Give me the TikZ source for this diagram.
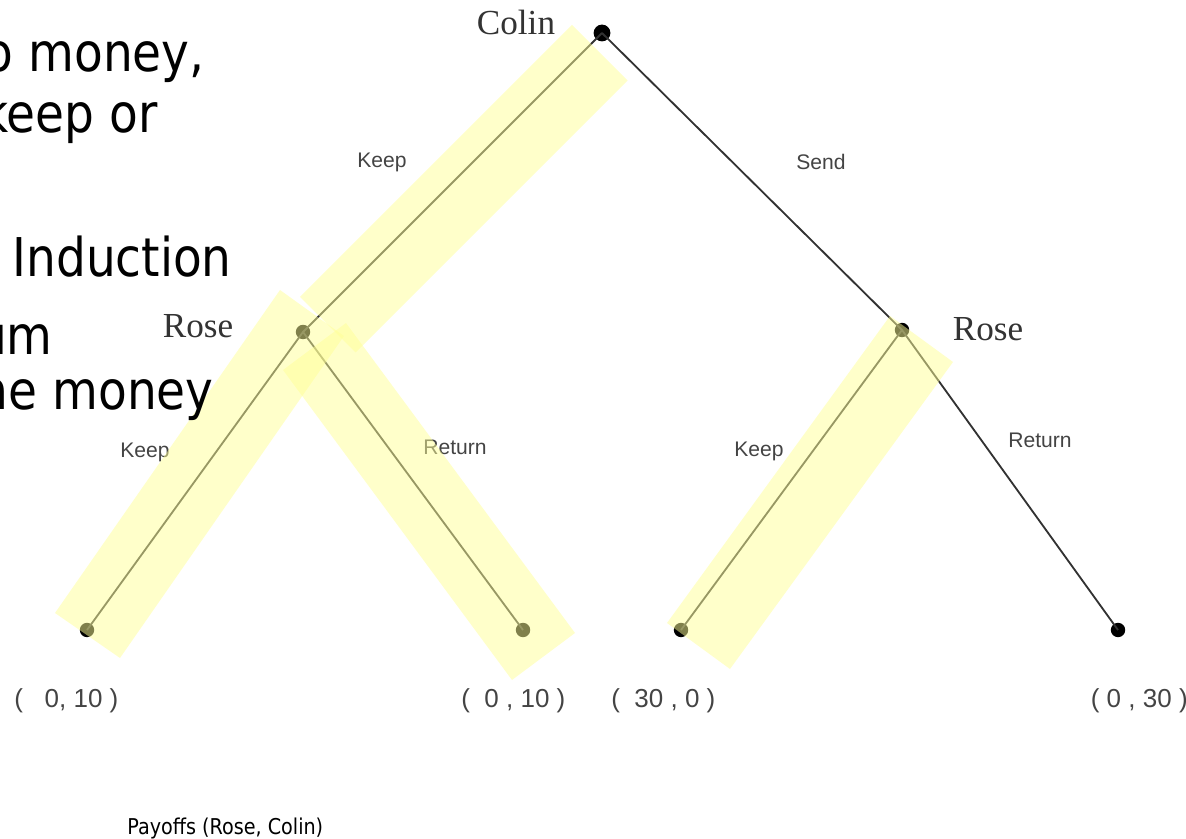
\documentclass[tikz,border=0pt]{standalone}
\usepackage{fontspec}
\setmainfont{Liberation Serif}
\newfontfamily\slidefont[FakeStretch=0.88]{DejaVu Sans}
\newfontfamily\labelfont{Liberation Sans}
\definecolor{hilite}{RGB}{255,255,150}
\definecolor{branch}{RGB}{50,50,50}
\definecolor{labelgray}{RGB}{68,68,68}
\tikzset{
    dot/.style={circle,fill=black,inner sep=0pt,minimum size=0.36cm},
    branchline/.style={draw=branch,line width=1.3pt},
    player/.style={font=\fontsize{25}{25}\selectfont,text=black!80,inner sep=0pt},
    move/.style={font=\labelfont\fontsize{15}{15}\selectfont,text=labelgray,inner sep=0pt},
    payoff/.style={font=\labelfont\fontsize{18.5}{18.5}\selectfont,text=labelgray,inner sep=0pt},
    slide/.style={font=\slidefont\fontsize{38}{38}\selectfont,inner sep=0pt,anchor=base east},
    band/.style={fill=hilite,fill opacity=0.5},
}
\begin{document}
\begin{tikzpicture}[x=0.025cm,y=-0.025cm]
				  %1 unit = 1 pixel of the slide, y going down
				  \useasboundingbox (0,0) rectangle (1186,839);
				  \clip (0,0) rectangle (1186,839);

				  %NODES
				  \node[dot,minimum size=0.42cm] (colin) at (602,33) {};
				  \node[dot] (roseL) at (303,332) {};
				  \node[dot] (roseR) at (902,330) {};
				  \node[dot] (leafA) at (87,630) {};
				  \node[dot] (leafB) at (523,630) {};
				  \node[dot] (leafC) at (681,630) {};
				  \node[dot] (leafD) at (1118,630) {};

				  %BRANCHES
				  \draw[branchline] (colin.center) -- (roseL.center) -- (leafA.center);
				  \draw[branchline] (roseL.center) -- (leafB.center);
				  \draw[branchline] (colin.center) -- (roseR.center) -- (leafC.center);
				  \draw[branchline] (roseR.center) -- (leafD.center);

				  %PLAYERS
				  \node[player,anchor=base] (colinname) at (516,35) {Colin};
				  \node[player,anchor=base] (roseLname) at (198,338) {Rose};
				  \node[player,anchor=base] (roseRname) at (988,341) {Rose};

				  %MOVES
				  \node[move] (keepA) at (382,162) {Keep};
				  \node[move] (send) at (821,162) {Send};
				  \node[move] (keepB) at (145,452) {Keep};
				  \node[move] (returnB) at (455,447) {Return};
				  \node[move] (keepC) at (759,451) {Keep};
				  \node[move] (returnC) at (1040,440) {Return};

				  %PAYOFFS
				  \node[payoff,anchor=base west] (payA) at (14,707) {(\ \ \ 0, 10\ )};
				  \node[payoff,anchor=base west] (payB) at (461,707) {(\ \ 0 , 10\ )};
				  \node[payoff,anchor=base west] (payC) at (611,707) {(\ \ 30 , 0\ )};
				  \node[payoff,anchor=base east] (payD) at (1188,707) {(\ 0 , 30\ )};

				  %BACKWARD INDUCTION
				  \fill[band] (572,25) -- (627.5,80.5) -- (355.5,352.5) -- (300,297) -- cycle;
				  \fill[band] (55,613) -- (120,658) -- (344,336) -- (280,290) -- cycle;
				  \fill[band] (512,680) -- (575,633) -- (346,323) -- (283,370) -- cycle;
				  \fill[band] (667,623) -- (730,669) -- (953,362) -- (890,316) -- cycle;

				  %SLIDE TEXT
				  \node[slide] (lineA) at (205,72) {o money,};
				  \node[slide] (lineB) at (158,133) {keep or};
				  \node[slide] (lineC) at (232,277) {Induction};
				  \node[slide] (lineD) at (53,355) {um};
				  \node[slide] (lineE) at (214,410) {he money};
				  \node[font=\slidefont\fontsize{15.5}{15.5}\selectfont,inner sep=0pt,anchor=base west] (caption) at (127,834) {Payoffs (Rose, Colin)};
				  \end{tikzpicture}
\end{document}
